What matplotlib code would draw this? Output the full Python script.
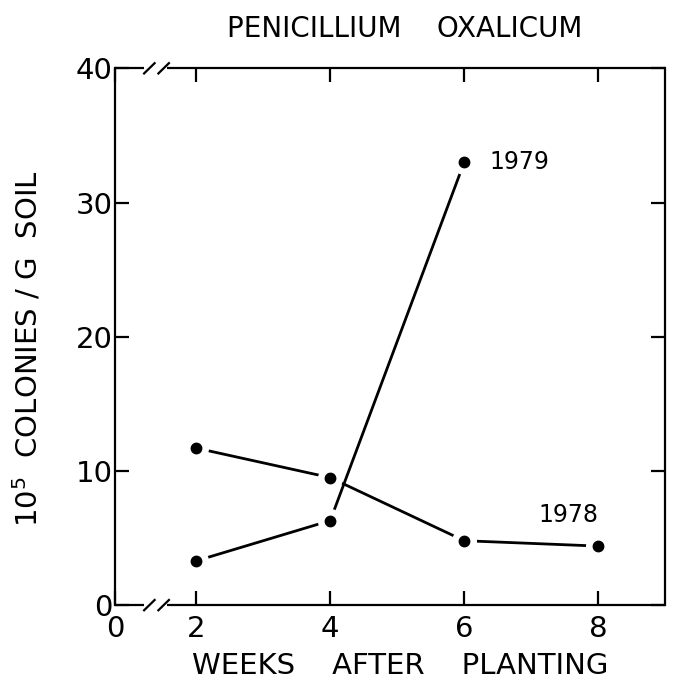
import matplotlib
matplotlib.use("Agg")
import matplotlib.pyplot as plt
from matplotlib.lines import Line2D

# data
weeks = [2, 4, 6, 8]
y1978 = [11.7, 9.5, 4.8, 4.4]
weeks_1979 = [2, 4, 6]
y1979 = [3.3, 6.3, 33.0]

x_ticks = [2, 4, 6, 8]
y_ticks = [0, 10, 20, 30, 40]

X_MIN = 0.79   # the "0" sits at the left edge, the axis is broken
X_MAX = 9.0


def draw_series(ax, x, y):
    ax.plot(x, y, color='black', linewidth=2.0, zorder=2, solid_capstyle='butt')
    # white halo so the line stops short of each point
    ax.plot(x, y, linestyle='none', marker='o', markersize=17,
            markerfacecolor='white', markeredgecolor='white', zorder=3)
    ax.plot(x, y, linestyle='none', marker='o', markersize=7.5,
            markerfacecolor='black', markeredgecolor='black', zorder=4)


def draw_break(ax, y):
    kw = dict(transform=ax.transAxes, color='black', linewidth=1.6,
              clip_on=False, zorder=5, solid_capstyle='butt')
    ax.add_line(Line2D([0, 0.052], [y, y], **kw))
    ax.add_line(Line2D([0.095, 1], [y, y], **kw))
    for cx in [0.062, 0.088]:
        ax.add_line(Line2D([cx - 0.011, cx + 0.011], [y - 0.011, y + 0.011], **kw))


def main():
    fig = plt.figure(figsize=(6.78, 6.90), dpi=100)
    ax = fig.add_axes([0.170, 0.123, 0.811, 0.778])

    draw_series(ax, weeks, y1978)
    draw_series(ax, weeks_1979, y1979)

    ax.set_xlim(X_MIN, X_MAX)
    ax.set_ylim(0, 40)

    ax.set_xticks([X_MIN] + x_ticks)
    ax.set_xticklabels(['0'] + [str(v) for v in x_ticks])
    ax.set_yticks(y_ticks)
    ax.tick_params(direction='in', top=True, right=True, length=10, width=1.6,
                   labelsize=21, colors='black')
    ax.tick_params(axis='x', pad=7)
    ax.tick_params(axis='y', pad=2)

    ax.spines['top'].set_visible(False)
    ax.spines['bottom'].set_visible(False)
    for side in ['left', 'right']:
        ax.spines[side].set_linewidth(1.6)
    draw_break(ax, 0)
    draw_break(ax, 1)

    ax.text(6.38, 33.0, '1979', fontsize=17, va='center', ha='left')
    ax.text(7.55, 6.7, '1978', fontsize=17, va='center', ha='center')

    fig.text(0.597, 0.958, 'PENICILLIUM    OXALICUM', fontsize=20,
             ha='center', va='center')
    fig.text(0.590, 0.035, 'WEEKS    AFTER    PLANTING', fontsize=21,
             ha='center', va='center')
    fig.text(0.040, 0.495, '10$^5$  COLONIES / G  SOIL', fontsize=21,
             ha='center', va='center', rotation=90)

    fig.savefig('out.png', dpi=100, facecolor='white')


if __name__ == "__main__":
    main()
